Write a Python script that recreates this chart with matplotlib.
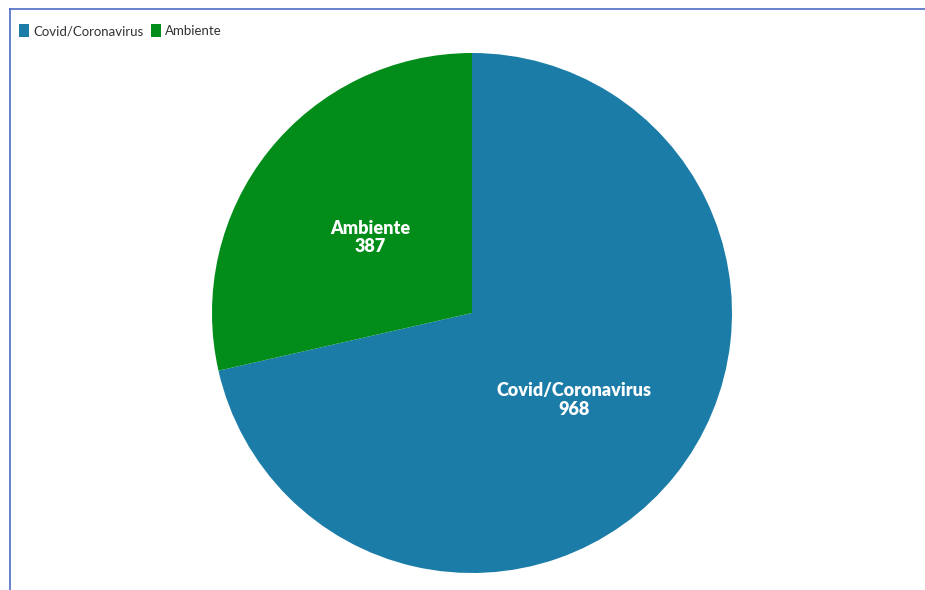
import matplotlib
matplotlib.use("Agg")
import matplotlib.pyplot as plt
from matplotlib.patches import Patch
from matplotlib.lines import Line2D

W, H = 925, 590
C_COVID = "#1a7ca7"
C_AMB = "#028c19"
C_BORDER = "#4d6bc2"

labels = ["Covid/Coronavirus", "Ambiente"]
values = [968, 387]
colors = [C_COVID, C_AMB]

plt.rcParams["font.family"] = ["Lato", "DejaVu Sans"]

fig = plt.figure(figsize=(W / 100, H / 100), dpi=100)
fig.patch.set_facecolor("white")

# pie centre (472, 313) px, radius 260 px
cx, cy, r = 472, 313, 260
ax = fig.add_axes([(cx - r) / W, (H - cy - r) / H, 2 * r / W, 2 * r / H])
wedges, texts = ax.pie(
    values, colors=colors, startangle=90, counterclock=False,
    labels=[f"{l}\n{v}" for l, v in zip(labels, values)],
    labeldistance=0.5, wedgeprops=dict(linewidth=0),
    textprops=dict(color="white", fontsize=13, fontweight="heavy",
                   ha="center", va="center", linespacing=1.1),
)
# nudge the slice labels a little below the mid-radius point
for t in texts:
    x, y = t.get_position()
    t.set_position((x, y - 0.022))
ax.set_xlim(-1, 1)
ax.set_ylim(-1, 1)
ax.axis("off")

# frame lines on top and left edges
fig.add_artist(Line2D([10 / W, 1], [1 - 9 / H, 1 - 9 / H],
                      transform=fig.transFigure, color=C_BORDER, lw=1.2))
fig.add_artist(Line2D([10 / W, 10 / W], [0, 1 - 9 / H],
                      transform=fig.transFigure, color=C_BORDER, lw=1.2))

handles = [Patch(facecolor=c, edgecolor="none", label=l) for l, c in zip(labels, colors)]
fig.legend(handles=handles, loc="upper left", bbox_to_anchor=(10 / W, 1 - 15 / H),
           ncol=2, frameon=False, fontsize=9.5, handlelength=0.75, handleheight=1.1,
           handletextpad=0.3, columnspacing=0.6, labelcolor="#333333",
           borderpad=0.2)

fig.savefig("out.png", dpi=100, facecolor="white")
